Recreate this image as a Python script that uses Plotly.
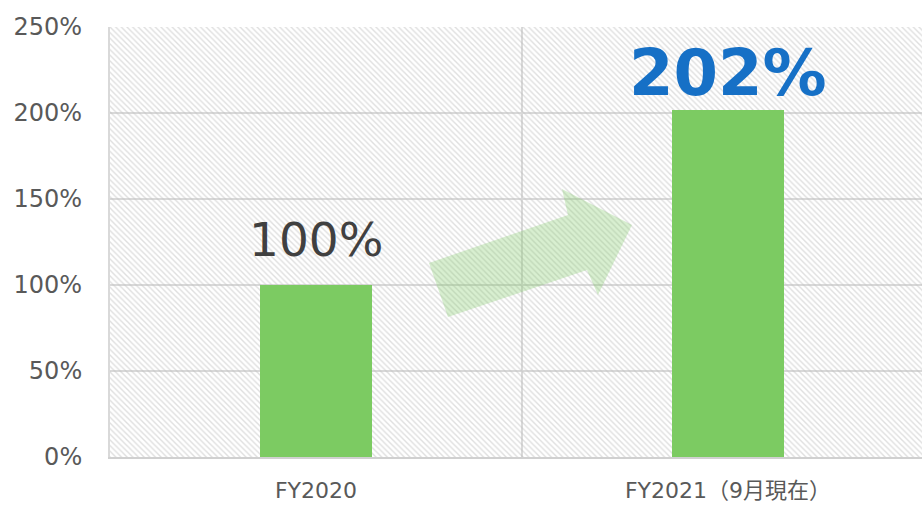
import plotly.graph_objects as go

categories = ["FY2020", "FY2021（9月現在）"]
values = [1.00, 2.02]
y_ticks = [0, 0.5, 1.0, 1.5, 2.0, 2.5]
y_max = 2.5

FONT = "DejaVu Sans, Noto Sans CJK JP, sans-serif"
xpos = list(range(len(categories)))

fig = go.Figure()

# hatched background panel
fig.add_trace(go.Bar(
    x=[(xpos[0] + xpos[-1]) / 2], y=[y_max], width=[2.2],
    marker=dict(color="rgba(0,0,0,0)",
                pattern=dict(shape="\\", fgcolor="#bfbfbf", bgcolor="rgba(0,0,0,0)",
                             size=4, solidity=0.35),
                line=dict(width=0)),
    hoverinfo="skip", showlegend=False))

fig.add_trace(go.Bar(
    x=xpos, y=values, width=0.272,
    marker=dict(color="#7CCB62", line=dict(width=0)),
    showlegend=False))

# value labels
styles = [dict(size=47, color="#404040", weight="normal"),
          dict(size=64, color="#1670C6", weight="bold")]
shifts = [16, -2]
for xi, v, st, sh in zip(xpos, values, styles, shifts):
    fig.add_annotation(x=xi, y=v, text=f"{v:.0%}", showarrow=False,
                       yanchor="bottom", yshift=sh,
                       font=dict(family=FONT, size=st["size"], color=st["color"],
                                 weight=st["weight"]))

# vertical gridline between categories
fig.add_shape(type="line", xref="x", yref="y", x0=0.5, x1=0.5, y0=0, y1=y_max,
              line=dict(color="#d9d9d9", width=2), layer="below")

# decorative arrow
arrow = [(0.3204, 0.814), (0.2743, 1.128), (0.6117, 1.407), (0.5971, 1.558),
         (0.767, 1.349), (0.6845, 0.942), (0.6578, 1.087)]
path = "M " + " L ".join(f"{a},{b}" for a, b in arrow) + " Z"
fig.add_shape(type="path", path=path, xref="x", yref="y",
              fillcolor="rgba(126,203,99,0.3)", line=dict(width=0), layer="above")

fig.update_layout(
    width=922, height=506,
    margin=dict(l=110, r=0, t=27, b=49),
    paper_bgcolor="white", plot_bgcolor="white",
    barmode="overlay", bargap=0,
    font=dict(family=FONT, color="#595959"),
    xaxis=dict(range=[-0.5, 1.471], tickvals=xpos, ticktext=categories,
               showgrid=False, zeroline=False, showline=True, linecolor="#d0d0d0",
               linewidth=2, ticks="", tickfont=dict(size=22, color="#595959"),
               ticklabelstandoff=13, automargin=False),
    yaxis=dict(range=[0, y_max], tickvals=y_ticks, tickformat=".0%",
               showgrid=True, gridcolor="#d9d9d9", gridwidth=2, zeroline=False,
               showline=True, linecolor="#d9d9d9", linewidth=2, ticks="",
               tickfont=dict(size=24, color="#595959"), ticklabelstandoff=21,
               automargin=False),
)

fig.write_html("out.html", config={"displayModeBar": False},
               post_script="document.body.style.margin='0';document.body.style.overflow='hidden';")
